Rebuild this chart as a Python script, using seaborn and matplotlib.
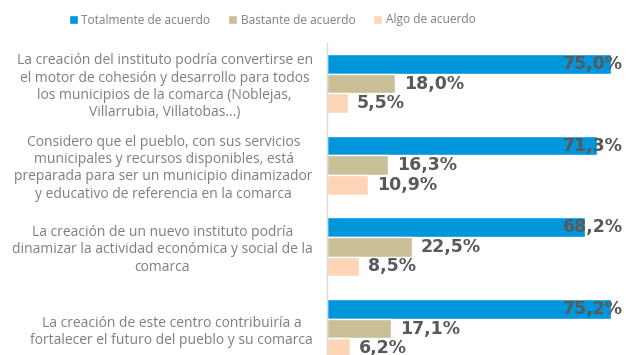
import matplotlib
matplotlib.use("Agg")
import matplotlib.pyplot as plt
import seaborn as sns
import pandas as pd

# Survey statements (wrapped as displayed) and the share of each agreement level
statements = [
    "La creación del instituto podría convertirse en\nel motor de cohesión y desarrollo para todos\nlos municipios de la comarca (Noblejas,\nVillarrubia, Villatobas...)",
    "Considero que el pueblo, con sus servicios\nmunicipales y recursos disponibles, está\npreparada para ser un municipio dinamizador\ny educativo de referencia en la comarca",
    "La creación de un nuevo instituto podría\ndinamizar la actividad económica y social de la\ncomarca",
    "La creación de este centro contribuiría a\nfortalecer el futuro del pueblo y su comarca",
]
levels = ["Totalmente de acuerdo", "Bastante de acuerdo", "Algo de acuerdo"]
totalmente = [75.0, 71.3, 68.2, 75.2]
bastante = [18.0, 16.3, 22.5, 17.1]
algo = [5.5, 10.9, 8.5, 6.2]

colors = ["#0096DB", "#C9BF97", "#FDD5B6"]
label_gray = "#7F7F7F"
value_gray = "#595959"

df = pd.DataFrame({
    "statement": statements * 3,
    "level": [levels[0]] * 4 + [levels[1]] * 4 + [levels[2]] * 4,
    "value": totalmente + bastante + algo,
})

sns.set_theme(style="white")
plt.rcParams["font.family"] = ["Open Sans", "DejaVu Sans"]

fig = plt.figure(figsize=(6.27, 3.55), dpi=100)
ax = fig.add_axes([326.7 / 627, 0.0, 1 - 326.7 / 627, (355 - 42.7) / 355])

sns.barplot(data=df, y="statement", x="value", hue="level", hue_order=levels,
            order=statements, palette=colors, orient="h", width=0.72,
            saturation=1, ax=ax, errorbar=None)

ax.set_xlim(0, 79.3)
ax.set_ylim(3.324, -0.5)
ax.set_xlabel("")
ax.set_ylabel("")
ax.set_xticks([])
ax.tick_params(axis="y", length=0, pad=10)
for lab in ax.get_yticklabels():
    lab.set_multialignment("center")
    lab.set_color(label_gray)
    lab.set_fontsize(10)
    lab.set_linespacing(1.2)

for side in ["top", "right", "bottom"]:
    ax.spines[side].set_visible(False)
ax.spines["left"].set_color("#D9D9D9")
ax.spines["left"].set_linewidth(1.0)

def fmt(v):
    return f"{v:.1f}%".replace(".", ",")

value_font = dict(family="DejaVu Sans", weight="bold", size=12.5, color=value_gray)

# Top-level bars: labels sit at the right edge of the plot area
top_bars = ax.containers[0]
for bar, v in zip(top_bars, totalmente):
    yc = bar.get_y() + bar.get_height() / 2
    ax.text(78.2, yc, fmt(v), ha="right", va="center", clip_on=False, **value_font)

# Other levels: labels just outside the bar end
for cont, vals in zip(ax.containers[1:], [bastante, algo]):
    ax.bar_label(cont, labels=[fmt(v) for v in vals], padding=6.5, **{
        "fontfamily": value_font["family"], "fontweight": "bold",
        "fontsize": value_font["size"], "color": value_gray})

handles, labs = ax.get_legend_handles_labels()
ax.get_legend().remove()
fig.legend(handles, labs, loc="center", bbox_to_anchor=(272 / 627, 1 - 20 / 355),
           ncol=3, frameon=False, fontsize=8.6, labelcolor=label_gray,
           handlelength=0.75, handleheight=0.75, handletextpad=0.3,
           columnspacing=1.5, borderpad=0)

fig.savefig("out.png", dpi=100)
